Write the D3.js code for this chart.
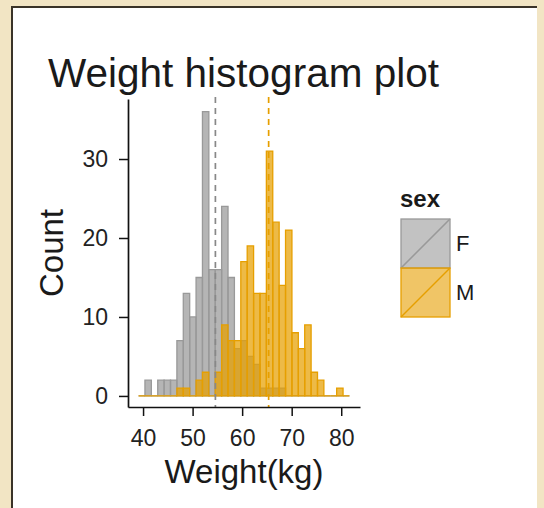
<!DOCTYPE html>
<html><head><meta charset="utf-8">
<script src="https://cdn.jsdelivr.net/npm/d3@7"></script>
<style>html,body{margin:0;padding:0;background:#f3e7c9;} svg{display:block;}</style>
</head><body><svg id="c" width="544" height="508"></svg>
<script>
// ---- data ----
const sexes = ["F", "M"];
const palette = ["#999999", "#E69F00"];
const binStart = 39.09;
const binWidth = 1.29;
const femaleCounts = [0, 2, 0, 2, 2, 2, 7, 13, 10, 15, 36, 16, 16, 24, 15, 6, 7, 5, 4, 1, 1, 1, 1, 0, 0, 0, 0, 0, 0, 0, 0, 0, 0];
const maleCounts   = [0, 0, 0, 0, 0, 0, 1, 1, 0, 2, 3, 0, 3, 9, 7, 7, 17, 19, 13, 13, 31, 22, 14, 21, 8, 6, 9, 3, 2, 0, 0, 1, 0];
const meanWeights = [54.6, 65.35];
const xTickValues = [40, 50, 60, 70, 80];
const yTickValues = [0, 10, 20, 30];
const titleText = "Weight histogram plot";
const xLabel = "Weight(kg)";
const yLabel = "Count";
const legendTitle = "sex";

const series = [femaleCounts, maleCounts];
const FONT = "'Liberation Sans', Arial, Helvetica, sans-serif";

const svg = d3.select("#c");
// frame
svg.append("rect").attr("x", 0).attr("y", 0).attr("width", 544).attr("height", 508).attr("fill", "#f2e5c4");
svg.append("rect").attr("x", 12).attr("y", 7).attr("width", 525).attr("height", 510).attr("fill", "#ffffff");
svg.append("path").attr("d", "M12,508V7H537").attr("fill", "none").attr("stroke", "#3a3328").attr("stroke-width", 2);

const x = d3.scaleLinear().domain([36.96, 83.79]).range([128, 360]);
const y = d3.scaleLinear().domain([-1.4, 37.6]).range([407, 99]);

// bars
series.forEach((counts, si) => {
  const g = svg.append("g");
  g.selectAll("path").data(counts).join("path")
    .attr("d", (c, i) => {
      const x0 = x(binStart + i * binWidth), x1 = x(binStart + (i + 1) * binWidth);
      return `M${x0},${y(0)}V${y(c)}H${x1}V${y(0)}Z`;
    })
    .attr("fill", palette[si]).attr("fill-opacity", 0.72)
    .attr("stroke", palette[si]).attr("stroke-width", 1.3);
});

// mean lines
meanWeights.forEach((m, si) => {
  svg.append("line")
    .attr("x1", x(m)).attr("x2", x(m)).attr("y1", y.range()[1] - 2).attr("y2", y.range()[0])
    .attr("stroke", si === 0 ? "#888888" : palette[si]).attr("stroke-width", 1.7).attr("stroke-dasharray", "6,5");
});

// axes
const xAxis = svg.append("g").attr("transform", `translate(0,${y.range()[0]})`)
  .call(d3.axisBottom(x).tickValues(xTickValues).tickSize(9).tickSizeOuter(0).tickPadding(14));
const yAxis = svg.append("g").attr("transform", `translate(${x.range()[0]},0)`)
  .call(d3.axisLeft(y).tickValues(yTickValues).tickSize(9).tickSizeOuter(0).tickPadding(11));
[xAxis, yAxis].forEach(a => {
  a.select(".domain").attr("stroke", "#111").attr("stroke-width", 1.7);
  a.selectAll(".tick line").attr("stroke", "#111").attr("stroke-width", 1.5);
  a.selectAll(".tick text").attr("fill", "#222").style("font-family", FONT).style("font-size", "23px");
});

// title and labels
svg.append("text").attr("x", 48).attr("y", 87).text(titleText)
  .style("font-family", FONT).style("font-size", "40.5px").attr("fill", "#1a1a1a");
svg.append("text").attr("x", 244).attr("y", 483).attr("text-anchor", "middle").text(xLabel)
  .style("font-family", FONT).style("font-size", "33px").attr("fill", "#1a1a1a");
svg.append("text").attr("transform", "translate(63,253) rotate(-90)").attr("text-anchor", "middle").text(yLabel)
  .style("font-family", FONT).style("font-size", "33px").attr("fill", "#1a1a1a");

// legend
svg.append("text").attr("x", 400).attr("y", 207).text(legendTitle)
  .style("font-family", FONT).style("font-size", "24px").style("font-weight", "bold").attr("fill", "#1a1a1a");
sexes.forEach((s, si) => {
  const ky = 219 + si * 49;
  svg.append("rect").attr("x", 401).attr("y", ky).attr("width", 49).attr("height", 49)
    .attr("fill", palette[si]).attr("fill-opacity", 0.6).attr("stroke", palette[si]).attr("stroke-width", 1.3);
  svg.append("line").attr("x1", 401).attr("y1", ky + 49).attr("x2", 450).attr("y2", ky)
    .attr("stroke", palette[si]).attr("stroke-width", 1.5);
  svg.append("text").attr("x", 456).attr("y", ky + 24.5).attr("dy", "0.36em").text(s)
    .style("font-family", FONT).style("font-size", "22px").attr("fill", "#1a1a1a");
});
</script>
</body></html>
